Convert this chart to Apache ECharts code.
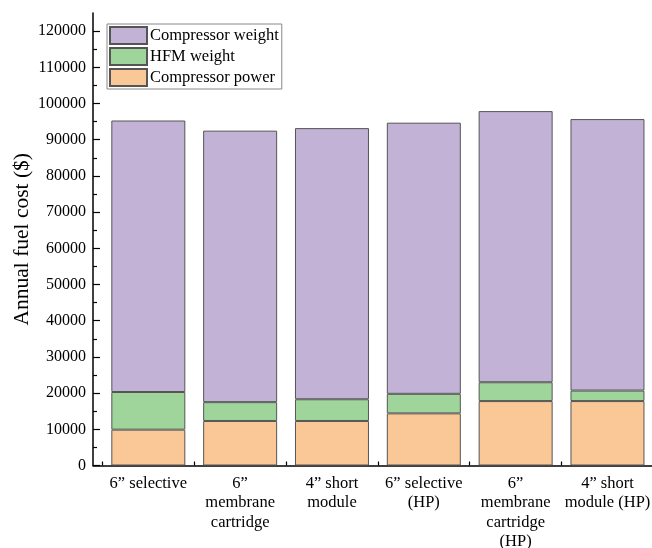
<!DOCTYPE html>
<html>
<head>
<meta charset="utf-8">
<script src="https://cdn.jsdelivr.net/npm/echarts@6/dist/echarts.min.js"></script>
<style>
  html, body { margin: 0; padding: 0; background: #fff; }
  #chart { width: 652px; height: 548px; }
</style>
</head>
<body>
<div id="chart"></div>
<script>
// Membrane configurations
const categories = [
  '6\u201D selective',
  '6\u201D\nmembrane\ncartridge',
  '4\u201D short\nmodule',
  '6\u201D selective\n(HP)',
  '6\u201D\nmembrane\ncartridge\n(HP)',
  '4\u201D short\nmodule (HP)'
];

// Annual fuel cost components ($), stacked bottom to top
const compressorPower = [9900, 12300, 12300, 14400, 17800, 17800];
const hfmWeight = [10400, 5200, 6000, 5400, 5200, 2900];
const compressorWeight = [75000, 75000, 74900, 74900, 74900, 75000];

// Y axis ticks
const yMajorTicks = [0, 10000, 20000, 30000, 40000, 50000, 60000, 70000, 80000, 90000, 100000, 110000, 120000];
const yMinorTicks = [5000, 15000, 25000, 35000, 45000, 55000, 65000, 75000, 85000, 95000, 105000, 115000];
const yMax = 125000;

const FONT = '"Liberation Serif", "Times New Roman", serif';
const colors = {
  'Compressor weight': '#C2B2D6',
  'HFM weight': '#9FD59B',
  'Compressor power': '#FAC796'
};

const chart = echarts.init(document.getElementById('chart'), null, { renderer: 'canvas' });

const plotTop = 13;
const plotBottom = 82.5;

function barSeries(name, data) {
  return {
    name: name,
    type: 'bar',
    stack: 'cost',
    xAxisIndex: 1,
    yAxisIndex: 2,
    barWidth: 74,
    data: data,
    itemStyle: { color: colors[name], borderColor: '#555', borderWidth: 1 },
    emphasis: { disabled: true }
  };
}

chart.setOption({
  animation: false,
  backgroundColor: '#fff',
  textStyle: { fontFamily: FONT },
  grid: [
    { left: 93, right: 0, top: plotTop, bottom: plotBottom, outerBoundsMode: 'none' },
    { left: 102.4, width: 551, top: plotTop, bottom: plotBottom, outerBoundsMode: 'none' }
  ],
  legend: {
    data: ['Compressor weight', 'HFM weight', 'Compressor power'],
    orient: 'vertical',
    left: 107,
    top: 24,
    icon: 'rect',
    itemWidth: 37,
    itemHeight: 17,
    itemGap: 2,
    padding: [2, 3, 2, 2],
    borderColor: '#888',
    borderWidth: 1,
    backgroundColor: '#fff',
    textStyle: { fontFamily: FONT, fontSize: 16.5, color: '#000', padding: [0, 0, 0, -2] },
    selectedMode: false
  },
  xAxis: [
    {
      gridIndex: 0,
      type: 'value',
      min: 0,
      max: 1,
      axisLine: { show: true, lineStyle: { color: '#000', width: 1.5 } },
      axisTick: { show: false },
      axisLabel: { show: false },
      splitLine: { show: false }
    },
    {
      gridIndex: 1,
      type: 'category',
      data: categories,
      boundaryGap: true,
      axisLine: { show: false },
      axisTick: { show: true, inside: true, length: 4, lineStyle: { color: '#000', width: 1.2 } },
      axisLabel: {
        interval: 0,
        margin: 8,
        fontFamily: FONT,
        fontSize: 16.5,
        color: '#000',
        lineHeight: 19.5
      }
    }
  ],
  yAxis: [
    {
      gridIndex: 0,
      type: 'value',
      position: 'left',
      min: 0,
      max: yMax,
      name: 'Annual fuel cost ($)',
      nameLocation: 'middle',
      nameGap: 60,
      nameMoveOverlap: false,
      nameRotate: 90,
      nameTextStyle: { fontFamily: FONT, fontSize: 21.5, color: '#000' },
      axisLine: { show: true, lineStyle: { color: '#000', width: 1.5 } },
      axisTick: { show: true, inside: true, length: 7, customValues: yMajorTicks, lineStyle: { color: '#000', width: 1.2 } },
      axisLabel: {
        customValues: yMajorTicks,
        formatter: (v) => String(v),
        margin: 7,
        fontFamily: FONT,
        fontSize: 16,
        color: '#000'
      },
      splitLine: { show: false }
    },
    {
      gridIndex: 0,
      type: 'value',
      position: 'left',
      min: 0,
      max: yMax,
      axisLine: { show: false },
      axisTick: { show: true, inside: true, length: 4, customValues: yMinorTicks, lineStyle: { color: '#000', width: 1.2 } },
      axisLabel: { show: false },
      splitLine: { show: false }
    },
    {
      gridIndex: 1,
      type: 'value',
      min: 0,
      max: yMax,
      show: false,
      splitLine: { show: false }
    }
  ],
  series: [
    barSeries('Compressor power', compressorPower),
    barSeries('HFM weight', hfmWeight),
    barSeries('Compressor weight', compressorWeight)
  ]
});
</script>
</body>
</html>
